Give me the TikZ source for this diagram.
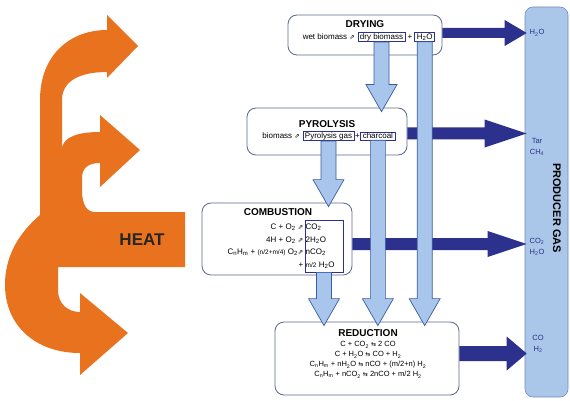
\documentclass[tikz,border=0pt]{standalone}
\usepackage{fontspec}
\setmainfont{Liberation Sans}
\newfontfamily\symf{DejaVu Sans}
\usetikzlibrary{calc,positioning}

\definecolor{heatorange}{RGB}{232,114,30}
\definecolor{flowblue}{RGB}{168,198,235}
\definecolor{flowedge}{RGB}{60,90,160}
\definecolor{gasnavy}{RGB}{43,49,140}
\definecolor{boxedge}{RGB}{90,105,140}
\definecolor{gasfill}{RGB}{170,198,232}

\newcommand{\lo}[1]{\textsubscript{#1}}
\newcommand{\fwd}{{\symf\fontsize{6.5}{6.5}\selectfont ⇗}}
\newcommand{\rev}{{\symf\fontsize{6}{6}\selectfont ⇆}}

% fat light arrow, down from node #1 into the top of node #2
\newcommand{\flowdown}[2]{%
  \path[flowarrow] let \p1=(#1.south), \p2=(#2.north) in
    (\x1-7.5pt,\y1) -- (\x1+7.5pt,\y1) -- (\x1+7.5pt,\y2+23pt) -- (\x1+15.5pt,\y2+23pt)
    -- (\x1,\y2-4pt) -- (\x1-15.5pt,\y2+23pt) -- (\x1-7.5pt,\y2+23pt) -- cycle;}

% dark arrow to the gas column: start, target, head length, shaft half, head half
\newcommand{\flowright}[5]{%
  \path[gasarrow] let \p1=(#1), \p2=(#2.west) in
    (\x1,\y1+#4pt) -- (\x2-#3pt,\y1+#4pt) -- (\x2-#3pt,\y1+#5pt) -- (\x2+2pt,\y1)
    -- (\x2-#3pt,\y1-#5pt) -- (\x2-#3pt,\y1-#4pt) -- (\x1,\y1-#4pt) -- cycle;}

\begin{document}
\begin{tikzpicture}[x=1pt,y=-1pt,
    stage/.style={draw=boxedge,line width=0.8pt,rounded corners=9pt,fill=white},
    item/.style={draw=gasnavy,line width=0.7pt,fill=white,inner xsep=2pt,inner ysep=1pt,font=\fontsize{8}{9}\selectfont},
    stagetitle/.style={font=\bfseries\fontsize{10}{11}\selectfont},
    txt/.style={inner sep=0.5pt,font=\fontsize{8}{9}\selectfont},
    gaslabel/.style={font=\fontsize{7.5}{11}\selectfont,text=gasnavy,align=center,inner sep=0pt},
    flowarrow/.style={fill=flowblue,draw=flowedge,line width=0.7pt},
    gasarrow/.style={fill=gasnavy}
]
\useasboundingbox (0,0) rectangle (570,401);

% === HEAT ===
\fill[heatorange] (40,215) -- (40,100)
  .. controls (40,55) and (70,30) .. (107,30) -- (107,15) -- (138,46) -- (107,78) -- (107,72)
  .. controls (78,72) and (62,82) .. (62,100) -- (62,148)
  .. controls (64,136) and (80,132) .. (100,132) -- (100,115) -- (140,150) -- (100,187) -- (100,163)
  .. controls (88,163) and (82,168) .. (82,178) -- (82,190)
  .. controls (82,205) and (87,212) .. (95,212) -- (185,212) -- (185,267) -- (58,267) -- (58,290)
  .. controls (58,304) and (68,312) .. (80,312) -- (80,293) -- (128,333) -- (80,375) -- (80,353)
  .. controls (35,353) and (5,325) .. (5,285) .. controls (5,250) and (25,228) .. (40,215) -- cycle;
\node[font=\bfseries\fontsize{17}{17}\selectfont,text=black!85] (heat) at (142,240) {HEAT};

% === PRODUCER GAS column ===
\node[draw=flowedge!70,fill=gasfill,rounded corners=8pt,minimum width=43,minimum height=390,line width=0.6pt] (gas) at (546.5,202) {};
\node[rotate=-90,font=\bfseries\fontsize{11}{12}\selectfont] (gasname) at (557,208) {PRODUCER GAS};
\node[gaslabel] (outh2o) at (537,33) {H\lo{2}O};
\node[gaslabel] (outtar) at (537,147) {Tar\\CH\lo{4}};
\node[gaslabel] (outco2) at (537,247) {CO\lo{2}\\H\lo{2}O};
\node[gaslabel] (outco) at (538,344) {CO\\H\lo{2}};

% === Stages ===
\node[stage,minimum width=154,minimum height=40] (drying) at (365,35) {};
\node[stage,minimum width=160,minimum height=47] (pyro) at (327,131.5) {};
\node[stage,minimum width=150,minimum height=72] (comb) at (277,239) {};
\node[stage,minimum width=184,minimum height=73] (reduct) at (367,358.5) {};

% drying
\node[stagetitle] (dryingtitle) at (365,24) {DRYING};
\node[item] (drybio) at (381.5,37) {dry biomass};
\node[item,right=9pt of drybio] (dryh2o) {H\lo{2}O};
\node[txt,left=2pt of drybio] (wetbio) {wet biomass \fwd};
\node[txt] (dryplus) at ($(drybio.east)!0.5!(dryh2o.west)$) {+};

% pyrolysis
\node[stagetitle] (pyrotitle) at (327,124) {PYROLYSIS};
\node[item] (pyrogas) at (328.5,136) {Pyrolysis gas};
\node[item,right=6pt of pyrogas] (charcoal) {charcoal};
\node[txt,left=2pt of pyrogas] (pyrobio) {biomass \fwd};
\node[txt] (pyroplus) at ($(pyrogas.east)!0.5!(charcoal.west)$) {+};

% combustion
\node[stagetitle] (combtitle) at (278,212) {COMBUSTION};
\node[item,minimum width=38,minimum height=52] (combprod) at (324,246) {};
\node[txt,anchor=east] (combl1) at (304,227) {C + O\lo{2} \fwd};
\node[txt,anchor=east] (combl2) at (304,240) {4H + O\lo{2} \fwd};
\node[txt,anchor=east] (combl3) at (304,252) {C\lo{n}H\lo{m} + {\fontsize{6.5}{7}\selectfont(n/2+m/4)} O\lo{2}\fwd};
\node[txt,anchor=east] (combl4) at (304,265) {+};
\node[txt,anchor=west] (combr1) at (305,227) {CO\lo{2}};
\node[txt,anchor=west] (combr2) at (305,240) {2H\lo{2}O};
\node[txt,anchor=west] (combr3) at (305,252) {nCO\lo{2}};
\node[txt,anchor=west] (combr4) at (305,265) {{\fontsize{6.5}{7}\selectfont m/2} H\lo{2}O};

% reduction
\node[stagetitle] (reducttitle) at (368,333) {REDUCTION};
\node[align=center,inner sep=0pt,font=\fontsize{7.5}{10}\selectfont] (reducteqs) at (368,360)
  {C + CO\lo{2} \rev{} 2 CO\\
   C + H\lo{2}O \rev{} CO + H\lo{2}\\
   C\lo{n}H\lo{m} + nH\lo{2}O \rev{} nCO + (m/2+n) H\lo{2}\\
   C\lo{n}H\lo{m} + nCO\lo{2} \rev{} 2nCO + m/2 H\lo{2}};

% === Flows to the gas ===
\flowright{[yshift=2pt]drying.east}{gas}{20}{5}{13}
\flowright{[yshift=-2pt]pyro.east}{gas}{40}{6}{14}
\flowright{[yshift=-5pt]comb.east}{gas}{37}{6}{13}
\flowright{[yshift=5pt]reduct.east}{gas}{18}{7.5}{17}

% === Flows between stages ===
\flowdown{drybio}{pyro}
\flowdown{dryh2o}{reduct}
\flowdown{pyrogas}{comb}
\flowdown{charcoal}{reduct}
\flowdown{combprod}{reduct}

\end{tikzpicture}
\end{document}
